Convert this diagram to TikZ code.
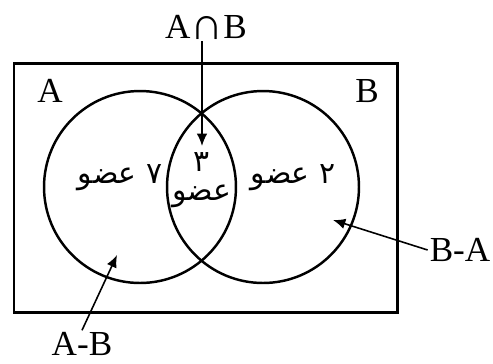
\documentclass[tikz,border=0pt]{standalone}
\usepackage{fontspec}
\setmainfont{Liberation Serif}
\newfontfamily\arabicfont[Script=Arabic]{DejaVu Sans}
\TeXXeTstate=1
\usetikzlibrary{arrows.meta}

\begin{document}
\begin{tikzpicture}[x=0.02cm, y=-0.02cm, every node/.style={font=\fontsize{20}{24}\selectfont, inner sep=1pt},
	fa/.style={font=\arabicfont\fontsize{17}{20}\selectfont}, >={Latex[length=7pt, width=6pt]}]
	\useasboundingbox (0,0) rectangle (493,363);
	\draw[line width=1.7pt] (14,63) rectangle (397,312);
	\coordinate (cA) at (140,187);
	\coordinate (cB) at (263,187);
	\draw[line width=1.4pt] (cA) circle[radius=1.92cm];
	\draw[line width=1.4pt] (cB) circle[radius=1.92cm];
	\node (setA) at (50,91) {A};
	\node (setB) at (367,91) {B};
	% counts in each region
	\node[fa] (onlyA) at (120,178) {\beginR ۷ عضو\endR};
	\node[fa] (onlyB) at (293,178) {\beginR ۲ عضو\endR};
	\node[fa] (bothnum) at (202,162) {۳};
	\node[fa] (bothword) at (202,196) {\beginR عضو\endR};
	% pointers
	\node (inter) at (206,27) {A\raisebox{-0.5pt}{\scalebox{1.3}{∩}}B};
	\coordinate (tipI) at (202,146);
	\draw[->, line width=0.9pt] (inter.south -| tipI) -- (tipI);
	\node (BminusA) at (460,250) {B-A};
	\coordinate (tipB) at (333,220);
	\draw[->, line width=0.9pt] (BminusA.west) -- (tipB);
	\node (AminusB) at (82,344) {A-B};
	\coordinate (tipA) at (117,255);
	\draw[->, line width=0.9pt] (AminusB.north) -- (tipA);
\end{tikzpicture}
\end{document}
